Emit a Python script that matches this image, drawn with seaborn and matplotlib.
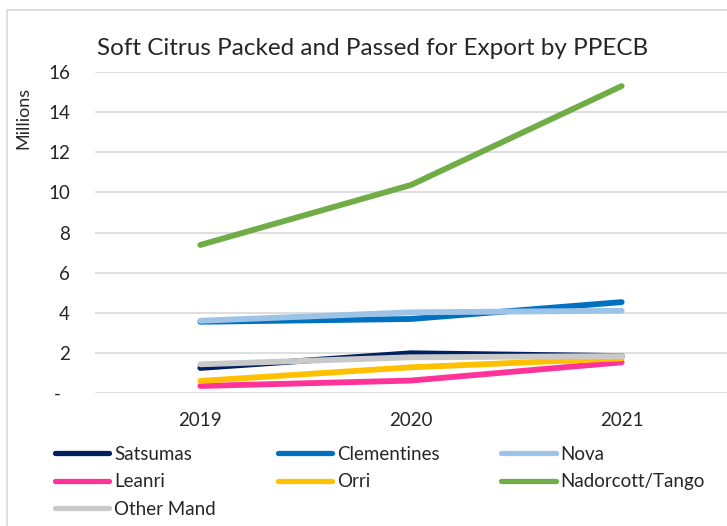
import pandas as pd
import numpy as np
import matplotlib.pyplot as plt
import matplotlib.patches as mpatches
import seaborn as sns

# данные (млн)
years = ["2019", "2020", "2021"]
satsumas = [1.25, 1.98, 1.84]
clementines = [3.55, 3.69, 4.53]
nova = [3.60, 4.02, 4.10]
leanri = [0.35, 0.62, 1.53]
orri = [0.60, 1.28, 1.73]
nadorcott = [7.38, 10.37, 15.30]
other_mand = [1.43, 1.78, 1.84]

series = ["Satsumas", "Clementines", "Nova", "Leanri", "Orri", "Nadorcott/Tango", "Other Mand"]
values = [satsumas, clementines, nova, leanri, orri, nadorcott, other_mand]
colors = ["#002060", "#0070C0", "#9DC3E6", "#FF3399", "#FFC000", "#70AD47", "#C9C9C9"]

df = pd.DataFrame({
    "year": np.tile(np.arange(len(years)), len(series)),
    "value": np.concatenate(values),
    "variety": np.repeat(series, len(years)),
})

sns.set_style("white")
plt.rcParams["font.family"] = ["Lato", "DejaVu Sans"]

fig = plt.figure(figsize=(7.27, 5.26), dpi=100)
# рамка диаграммы
fig.patches.append(mpatches.Rectangle((7 / 727, -0.1), 1.2, 1.1 - 10 / 526,
                                      transform=fig.transFigure, fill=False,
                                      edgecolor="#D9D9D9", linewidth=1.2))
ax = fig.add_axes([95 / 727, 1 - 393 / 526, 1 - 95 / 727, (393 - 72) / 526])

sns.lineplot(data=df, x="year", y="value", hue="variety", hue_order=series,
             palette=colors, linewidth=4.2, sort=False, ax=ax, legend=False)
for ln in ax.lines:
    ln.set_solid_capstyle("round")

ax.set_xlim(-0.5, 2.5)
ax.set_ylim(0, 16)
ax.set_xticks(range(len(years)))
ax.set_xticklabels(years, fontsize=13.5)
ax.set_yticks(range(0, 17, 2))
ax.set_yticklabels(["-  "] + [str(v) for v in range(2, 17, 2)], fontsize=13.5)
ax.tick_params(axis="y", length=0, pad=18)
ax.tick_params(axis="x", length=0, pad=14)
ax.yaxis.grid(True, color="#D9D9D9", linewidth=1.2)
ax.set_axisbelow(True)
for s in ax.spines.values():
    s.set_visible(False)
ax.set_xlabel("")
ax.set_ylabel("")

fig.text(23 / 727, 1 - 118 / 526, "Millions", rotation=90, fontsize=13,
         ha="center", va="center")
fig.text(373 / 727, 1 - 55 / 526, "Soft Citrus Packed and Passed for Export by PPECB",
         fontsize=17.5, ha="center", va="baseline")

# легенда: порядок по столбцам
order = [0, 3, 6, 1, 4, 2, 5]
handles = [plt.Line2D([], [], color=colors[i], linewidth=3.8, solid_capstyle="round") for i in order]
labels = [series[i] for i in order]
fig.legend(handles, labels, ncol=3, loc="upper left",
           bbox_to_anchor=(55 / 727, 1 - 446 / 526), frameon=False, fontsize=13.5,
           handlelength=2.9, handletextpad=0.25, columnspacing=3.3, labelspacing=0.55,
           borderaxespad=0, borderpad=0)

fig.savefig("out.png", dpi=100)
